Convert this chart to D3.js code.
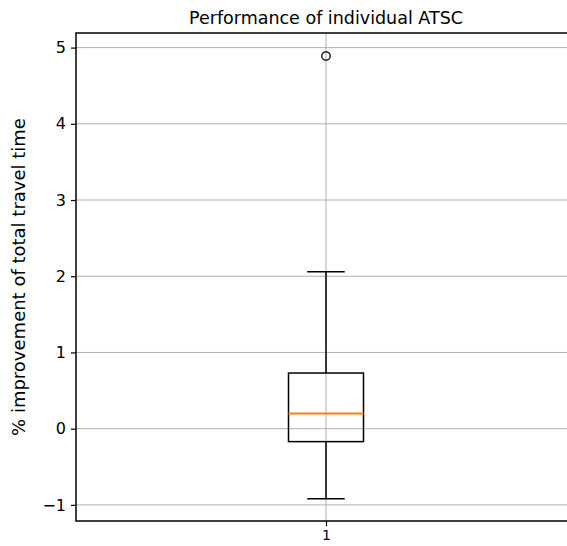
<!DOCTYPE html>
<html><head><meta charset="utf-8">
<script src="https://cdn.jsdelivr.net/npm/d3@7"></script>
<style>body{margin:0;background:#fff;}svg{display:block;font-family:"DejaVu Sans",sans-serif;}</style>
</head><body><svg id="c" width="567" height="546"></svg>
<script>
const categories = ["1"];
const lowerWhisker = [-0.92];
const q1 = [-0.17];
const median = [0.2];
const q3 = [0.73];
const upperWhisker = [2.06];
const outliers = [[4.89]];
const yTicks = [-1, 0, 1, 2, 3, 4, 5];

const svg = d3.select("#c");
const m = {l: 76, t: 33, r: -9, b: 25};
const W = 567, H = 546;
const x = d3.scaleLinear().domain([0.5, 1.5]).range([m.l, W - m.r]);
const y = d3.scaleLinear().domain([-1.2115, 5.1915]).range([H - m.b, m.t]);

// grid
const g = svg.append("g");
g.selectAll(".gy").data(yTicks).join("line")
  .attr("x1", m.l).attr("x2", W - m.r).attr("y1", d => y(d)).attr("y2", d => y(d))
  .attr("stroke", "#b0b0b0").attr("stroke-width", 1);
g.selectAll(".gx").data(categories).join("line")
  .attr("x1", (d, i) => x(i + 1)).attr("x2", (d, i) => x(i + 1))
  .attr("y1", m.t).attr("y2", H - m.b)
  .attr("stroke", "#b0b0b0").attr("stroke-width", 1);

// boxes
const bw = 0.15;
const lw = 1.5;
categories.forEach((c, i) => {
  const p = i + 1;
  const bg = svg.append("g");
  bg.append("line").attr("x1", x(p)).attr("x2", x(p)).attr("y1", y(q3[i])).attr("y2", y(upperWhisker[i])).attr("stroke", "#000").attr("stroke-width", lw);
  bg.append("line").attr("x1", x(p)).attr("x2", x(p)).attr("y1", y(q1[i])).attr("y2", y(lowerWhisker[i])).attr("stroke", "#000").attr("stroke-width", lw);
  bg.append("line").attr("x1", x(p - bw / 4)).attr("x2", x(p + bw / 4)).attr("y1", y(upperWhisker[i])).attr("y2", y(upperWhisker[i])).attr("stroke", "#000").attr("stroke-width", lw);
  bg.append("line").attr("x1", x(p - bw / 4)).attr("x2", x(p + bw / 4)).attr("y1", y(lowerWhisker[i])).attr("y2", y(lowerWhisker[i])).attr("stroke", "#000").attr("stroke-width", lw);
  bg.append("rect").attr("x", x(p - bw / 2)).attr("width", x(p + bw / 2) - x(p - bw / 2))
    .attr("y", y(q3[i])).attr("height", y(q1[i]) - y(q3[i]))
    .attr("fill", "none").attr("stroke", "#000").attr("stroke-width", lw);
  bg.append("line").attr("x1", x(p - bw / 2)).attr("x2", x(p + bw / 2)).attr("y1", y(median[i])).attr("y2", y(median[i])).attr("stroke", "#ff7f0e").attr("stroke-width", 2);
  bg.selectAll("circle").data(outliers[i]).join("circle")
    .attr("cx", x(p)).attr("cy", d => y(d)).attr("r", 4.2)
    .attr("fill", "none").attr("stroke", "#000").attr("stroke-width", 1.3);
});

// axes
const ya = svg.append("g").attr("transform", `translate(${m.l},0)`)
  .call(d3.axisLeft(y).tickValues(yTicks).tickSize(5).tickPadding(5).tickFormat(d => d < 0 ? "\u2212" + Math.abs(d) : d));
ya.select(".domain").remove();
ya.selectAll("line").attr("stroke-width", 1.2);
ya.selectAll("text").attr("font-size", 16).attr("fill", "#000").attr("font-family", "DejaVu Sans");
const xa = svg.append("g").attr("transform", `translate(0,${H - m.b})`)
  .call(d3.axisBottom(x).tickValues(categories.map((c, i) => i + 1)).tickSize(5).tickPadding(4).tickFormat((d, i) => categories[i]));
xa.select(".domain").remove();
xa.selectAll("line").attr("stroke-width", 1.2);
xa.selectAll("text").attr("font-size", 14).attr("fill", "#000").attr("font-family", "DejaVu Sans");

// frame
svg.append("rect").attr("x", m.l).attr("y", m.t).attr("width", W - m.r - m.l).attr("height", H - m.b - m.t)
  .attr("fill", "none").attr("stroke", "#000").attr("stroke-width", 1.5);

svg.append("text").attr("x", x(1)).attr("y", 24).attr("text-anchor", "middle")
  .attr("font-size", 17.5).attr("fill", "#000").text("Performance of individual ATSC");
svg.append("text").attr("transform", `translate(25,${(m.t + H - m.b) / 2}) rotate(-90)`)
  .attr("text-anchor", "middle").attr("font-size", 18).attr("fill", "#000")
  .text("% improvement of total travel time");
</script></body></html>
